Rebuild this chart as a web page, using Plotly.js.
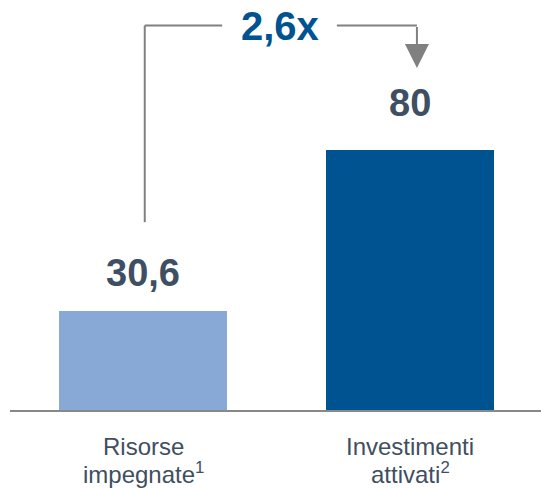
<!DOCTYPE html>
<html><head><meta charset="utf-8">
<script src="https://cdn.plot.ly/plotly-3.0.1.min.js"></script>
<style>html,body{margin:0;padding:0;background:#fff}#c{width:541px;height:488px}</style>
</head><body><div id="c"></div>
<script>
const categoryLine1 = ["Risorse", "Investimenti"];
const categoryLine2 = ["impegnate<sup>1</sup>", "attivati<sup>2</sup>"];
const values = [30.6, 80];
const valueLabels = ["30,6", "80"];
const multiplierLabel = "2,6x";
const barColors = ["#88a8d6", "#005391"];

const xs = [0, 1];
const data = [{
  type: 'bar', x: xs, y: values, width: 0.63,
  marker: {color: barColors}, hoverinfo: 'none'
}];

const lineColor = '#808080';
const yTop = 118.3;
const shapes = [
  {type:'line', xref:'x', yref:'y', x0:0.005, x1:0.005, y0:57.8, y1:yTop, line:{color:lineColor, width:2}},
  {type:'line', xref:'x', yref:'y', x0:0.005, x1:0.295, y0:yTop, y1:yTop, line:{color:lineColor, width:2}},
  {type:'line', xref:'x', yref:'y', x0:0.725, x1:1.025, y0:yTop, y1:yTop, line:{color:lineColor, width:2}}
];

const labelShift = [15, 24];
const annotations = values.map((v, i) => ({
  x: xs[i], y: v, xref:'x', yref:'y', text: valueLabels[i], showarrow:false,
  yanchor:'bottom', yshift: labelShift[i],
  font:{family:'Liberation Sans, Arial, sans-serif', size:38, color:'#3f4f63', weight:'bold'}
}));
annotations.push({
  x: 0.51, y: yTop, xref:'x', yref:'y', text: '<b>' + multiplierLabel + '</b>', showarrow:false,
  yanchor:'middle', yshift: 0,
  font:{family:'Liberation Sans, Arial, sans-serif', size:40, color:'#005391'}
});
annotations.push({
  x: 1.025, y: 105.2, ax: 1.025, ay: yTop, xref:'x', yref:'y', axref:'x', ayref:'y',
  text:'', showarrow:true, arrowhead:2, arrowsize:2.4, arrowwidth:2, arrowcolor:lineColor
});
const catFont = {family:'Liberation Sans, Arial, sans-serif', size:24, color:'#404f5f'};
xs.forEach((x, i) => {
  annotations.push({x:x, xref:'x', y:0, yref:'y', yanchor:'top', yshift:-21, text:categoryLine1[i], showarrow:false, font:catFont});
  annotations.push({x:x, xref:'x', y:0, yref:'y', yanchor:'top', yshift:-46, text:categoryLine2[i], showarrow:false, font:catFont});
});

const layout = {
  width:541, height:488,
  margin:{l:10, r:0, t:20, b:78},
  paper_bgcolor:'#fff', plot_bgcolor:'#fff',
  showlegend:false, bargap:0,
  xaxis:{range:[-0.5,1.49], showticklabels:false, showline:true, linecolor:'#888', linewidth:2,
    showgrid:false, zeroline:false, ticks:'', fixedrange:true},
  yaxis:{range:[0,120], showgrid:false, zeroline:false, showticklabels:false, ticks:'', showline:false},
  shapes: shapes, annotations: annotations
};
Plotly.newPlot('c', data, layout, {displayModeBar:false, staticPlot:true});
</script></body></html>
